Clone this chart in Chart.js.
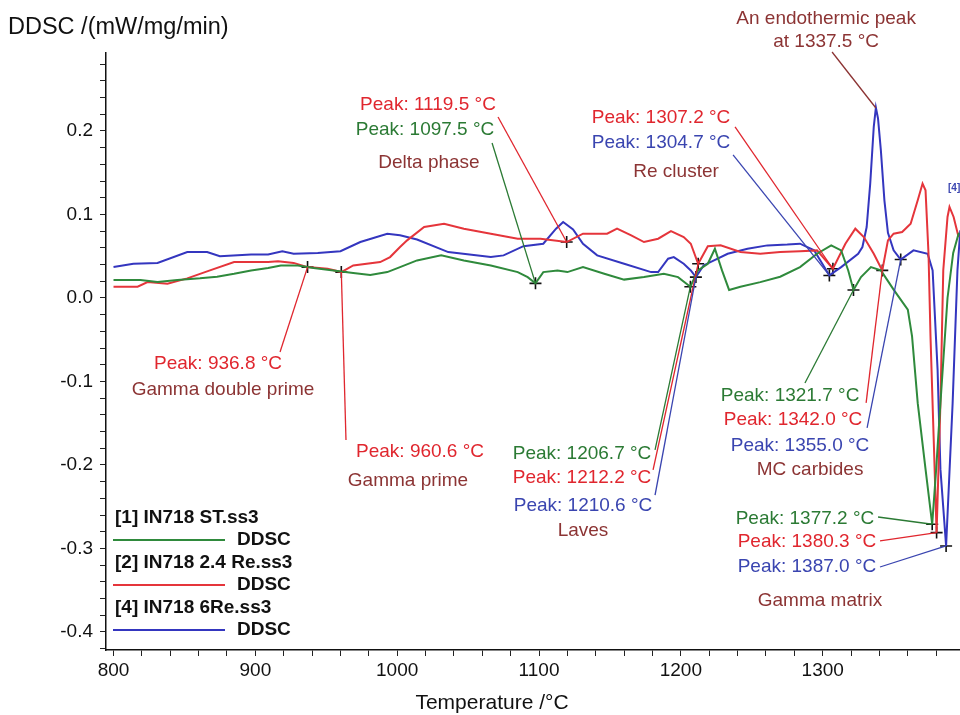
<!DOCTYPE html>
<html>
<head>
<meta charset="utf-8">
<script src="https://cdn.jsdelivr.net/npm/chart.js@4.4.1/dist/chart.umd.min.js"></script>
<style>
  html, body { margin: 0; padding: 0; background: #fff; }
  canvas { display: block; }
</style>
</head>
<body>
<canvas id="ddsc" width="960" height="715"></canvas>
<script>
// ---- data (temperature in °C, DDSC in mW/mg/min) ----
const seriesNames = ['[1] IN718 ST.ss3', '[2] IN718 2.4 Re.ss3', '[4] IN718 6Re.ss3'];

const greenT = [800, 819, 831, 845, 861, 873, 885, 897, 909, 918, 930, 941, 955, 969, 981, 993, 1002, 1014, 1031, 1047,
  1066, 1085, 1092, 1097.5, 1103, 1113, 1120, 1131, 1146, 1160, 1174, 1188, 1198, 1206.7, 1212, 1219, 1224, 1229, 1234, 1242,
  1256, 1270, 1284, 1296, 1306, 1313, 1318, 1321.7, 1327, 1334, 1341, 1350, 1360, 1363, 1367, 1372.5, 1377.2, 1380, 1383, 1388,
  1392, 1396];
const greenV = [0.0215, 0.0215, 0.019, 0.0215, 0.0235, 0.0255, 0.029, 0.033, 0.036, 0.039, 0.039, 0.036, 0.033, 0.030, 0.0275, 0.031, 0.037, 0.045, 0.051, 0.045,
  0.039, 0.031, 0.025, 0.0175, 0.031, 0.033, 0.031, 0.037, 0.029, 0.022, 0.025, 0.029, 0.025, 0.0135, 0.033, 0.041, 0.059, 0.033, 0.0096, 0.0135,
  0.019, 0.0255, 0.037, 0.053, 0.063, 0.057, 0.033, 0.0096, 0.025, 0.037, 0.033, 0.010, -0.014, -0.046, -0.126, -0.205, -0.271, -0.205, -0.126, 0.0,
  0.054, 0.078];

const redT = [800, 817, 824, 838, 852, 868, 885, 909, 916, 927, 936.8, 951, 960.6, 969, 988, 995, 1002, 1007, 1019, 1033,
  1047, 1066, 1085, 1101, 1119.5, 1131, 1148, 1155, 1165, 1174, 1184, 1193, 1202, 1207, 1212.2, 1219, 1228, 1242, 1256, 1270,
  1284, 1296, 1307.2, 1316, 1323, 1329, 1336, 1342, 1346, 1350, 1356, 1362, 1367, 1370.4, 1372.5, 1374.6, 1376, 1378.2, 1380.3, 1383,
  1385, 1388, 1389.4, 1392.3, 1395.8];
const redV = [0.0135, 0.0135, 0.019, 0.017, 0.0235, 0.033, 0.043, 0.043, 0.044, 0.042, 0.037, 0.035, 0.031, 0.039, 0.043, 0.049, 0.061, 0.069, 0.085, 0.089,
  0.083, 0.077, 0.071, 0.071, 0.067, 0.077, 0.077, 0.083, 0.075, 0.067, 0.071, 0.080, 0.073, 0.065, 0.041, 0.062, 0.063, 0.055, 0.053, 0.055,
  0.056, 0.057, 0.035, 0.065, 0.083, 0.073, 0.053, 0.033, 0.069, 0.077, 0.079, 0.089, 0.117, 0.137, 0.129, 0.053, -0.046, -0.166, -0.281, -0.126,
  0.033, 0.097, 0.109, 0.097, 0.073];

const blueT = [800, 814, 831, 852, 866, 875, 897, 909, 919, 927, 944, 960, 974, 993, 1002, 1014, 1036, 1066, 1075, 1089,
  1103, 1112, 1117, 1124, 1131, 1141, 1160, 1179, 1184, 1191, 1195, 1202, 1207, 1210.6, 1216, 1233, 1247, 1261, 1275, 1284,
  1294, 1304.7, 1313, 1325, 1328, 1331, 1333.5, 1336, 1337.5, 1339, 1341, 1343.5, 1346, 1350, 1355, 1364, 1374, 1377.5, 1381, 1383,
  1387, 1391.6, 1395, 1397];
const blueV = [0.037, 0.041, 0.042, 0.055, 0.055, 0.050, 0.052, 0.052, 0.056, 0.053, 0.054, 0.056, 0.067, 0.077, 0.075, 0.070, 0.055, 0.049, 0.051, 0.062,
  0.065, 0.083, 0.091, 0.082, 0.065, 0.051, 0.041, 0.031, 0.031, 0.047, 0.049, 0.041, 0.033, 0.025, 0.039, 0.053, 0.059, 0.063, 0.064, 0.065,
  0.057, 0.027, 0.037, 0.053, 0.061, 0.085, 0.137, 0.205, 0.228, 0.215, 0.177, 0.117, 0.078, 0.057, 0.046, 0.057, 0.053, 0.033, -0.086, -0.205,
  -0.297, -0.126, 0.033, 0.081];

// picked peaks (temperatures), one list per curve
const greenPeaks = [1097.5, 1206.7, 1321.7, 1377.2];
const redPeaks = [936.8, 960.6, 1119.5, 1212.2, 1307.2, 1342.0, 1380.3];
const bluePeaks = [1210.6, 1304.7, 1355.0, 1387.0];

// axis range and ticks
const X_MIN = 794.7, X_MAX = 1396.8;
const Y_MIN = -0.4216, Y_MAX = 0.2934;
const xTicks = [];
for (let t = 800; t <= 1380; t += 20) xTicks.push(t);
const yTicks = [];
for (let k = -42; k <= 28; k += 2) yTicks.push(k / 100);

const COL = { green: '#2f8a3c', red: '#e5353b', blue: '#3436bf', brown: '#8c3434',
  gText: '#2b7a34', rText: '#e0262e', bText: '#3a45b0' };

const toPts = (T, V) => T.map((t, i) => ({ x: t, y: V[i] }));
const peakPts = (T, V, peaks) => peaks.map(p => ({ x: p, y: V[T.indexOf(p)] }));

// annotation texts; positions are given in data units (temperature, DDSC)
const notes = [
  { text: 'Peak: 1119.5 °C', color: COL.rText, at: [1021.7, 0.2311], from: [1071.1, 0.2168], to: [1119.5, 0.067] },
  { text: 'Peak: 1097.5 °C', color: COL.gText, at: [1019.6, 0.2012], from: [1066.9, 0.1856], to: [1097.5, 0.0175] },
  { text: 'Delta phase', color: COL.brown, at: [1022.4, 0.1617] },
  { text: 'Peak: 1307.2 °C', color: COL.rText, at: [1186.0, 0.2156], from: [1238.2, 0.2048], to: [1307.2, 0.035] },
  { text: 'Peak: 1304.7 °C', color: COL.bText, at: [1186.0, 0.1856], from: [1236.8, 0.1713], to: [1304.7, 0.027] },
  { text: 'Re cluster', color: COL.brown, at: [1196.6, 0.1509] },
  { text: 'An endothermic peak', color: COL.brown, at: [1302.4, 0.3341] },
  { text: 'at 1337.5 °C', color: COL.brown, at: [1302.4, 0.3066], from: [1306.6, 0.2946], to: [1337.5, 0.2275] },
  { text: 'Peak: 936.8 °C', color: COL.rText, at: [873.7, -0.0790], from: [917.4, -0.0647], to: [936.8, 0.037] },
  { text: 'Gamma double prime', color: COL.brown, at: [877.2, -0.1102] },
  { text: 'Peak: 960.6 °C', color: COL.rText, at: [1016.1, -0.1844], from: [963.9, -0.1701], to: [960.6, 0.031] },
  { text: 'Gamma prime', color: COL.brown, at: [1007.6, -0.2192] },
  { text: 'Peak: 1206.7 °C', color: COL.gText, at: [1130.3, -0.1868], from: [1181.8, -0.182], to: [1206.7, 0.0135] },
  { text: 'Peak: 1212.2 °C', color: COL.rText, at: [1130.3, -0.2156], from: [1180.4, -0.206], to: [1212.2, 0.041] },
  { text: 'Peak: 1210.6 °C', color: COL.bText, at: [1131.0, -0.2491], from: [1181.8, -0.236], to: [1210.6, 0.025] },
  { text: 'Laves', color: COL.brown, at: [1131.0, -0.279] },
  { text: 'Peak: 1321.7 °C', color: COL.gText, at: [1277.0, -0.1174], from: [1287.5, -0.1018], to: [1321.7, 0.0096] },
  { text: 'Peak: 1342.0 °C', color: COL.rText, at: [1279.1, -0.1461], from: [1330.6, -0.1257], to: [1342.0, 0.033] },
  { text: 'Peak: 1355.0 °C', color: COL.bText, at: [1284.0, -0.1772], from: [1331.3, -0.1557], to: [1355.0, 0.046] },
  { text: 'MC carbides', color: COL.brown, at: [1291.1, -0.206] },
  { text: 'Peak: 1377.2 °C', color: COL.gText, at: [1287.5, -0.2647], from: [1339.0, -0.2623], to: [1377.2, -0.271] },
  { text: 'Peak: 1380.3 °C', color: COL.rText, at: [1288.9, -0.2922], from: [1340.4, -0.291], to: [1380.3, -0.281] },
  { text: 'Peak: 1387.0 °C', color: COL.bText, at: [1288.9, -0.3222], from: [1340.4, -0.3222], to: [1387.0, -0.297] },
  { text: 'Gamma matrix', color: COL.brown, at: [1298.1, -0.3629] },
];

const FONT = '"Liberation Sans", Arial, sans-serif';
const NARROW = '"Liberation Sans Narrow", "Arial Narrow", "Liberation Sans", sans-serif';

// draws axis titles, leader lines, annotation texts and the legend block
const decorations = {
  id: 'decorations',
  afterDraw(chart) {
    const { ctx, scales: { x, y } } = chart;
    const px = p => [x.getPixelForValue(p[0]), y.getPixelForValue(p[1])];
    ctx.save();

    ctx.fillStyle = '#111';
    ctx.textBaseline = 'middle';
    ctx.textAlign = 'left';
    ctx.font = '23.5px ' + FONT;
    ctx.fillText('DDSC /(mW/mg/min)', 8, 28);
    ctx.textAlign = 'center';
    ctx.font = '21px ' + NARROW;
    ctx.fillText('Temperature /°C', 492, 703);

    notes.forEach(n => {
      if (n.from) {
        const a = px(n.from), b = px(n.to);
        ctx.strokeStyle = n.color;
        ctx.lineWidth = 1.3;
        ctx.beginPath();
        ctx.moveTo(a[0], a[1]);
        ctx.lineTo(b[0], b[1]);
        ctx.stroke();
      }
      const c = px(n.at);
      ctx.fillStyle = n.color;
      ctx.font = '19px ' + FONT;
      ctx.fillText(n.text, c[0], c[1]);
    });

    // small curve tag at the right edge
    ctx.fillStyle = COL.bText;
    ctx.font = 'bold 10px ' + FONT;
    ctx.textAlign = 'left';
    ctx.fillText('[4]', 948, 188);

    // legend
    const rows = [518, 563, 608];
    chart.data.datasets.slice(0, 3).forEach((ds, i) => {
      const top = rows[i];
      ctx.fillStyle = '#111';
      ctx.font = 'bold 19px ' + FONT;
      ctx.textAlign = 'left';
      ctx.fillText(ds.label, 115, top);
      ctx.strokeStyle = ds.borderColor;
      ctx.lineWidth = 2;
      ctx.beginPath();
      ctx.moveTo(113, top + 22);
      ctx.lineTo(225, top + 22);
      ctx.stroke();
      ctx.fillText('DDSC', 237, top + 22);
    });
    ctx.restore();
  }
};

const axisFont = { family: NARROW, size: 19 };

new Chart(document.getElementById('ddsc'), {
  type: 'line',
  data: {
    datasets: [
      { label: seriesNames[0], data: toPts(greenT, greenV), borderColor: COL.green, borderWidth: 2, pointRadius: 0, tension: 0 },
      { label: seriesNames[1], data: toPts(redT, redV), borderColor: COL.red, borderWidth: 2, pointRadius: 0, tension: 0 },
      { label: seriesNames[2], data: toPts(blueT, blueV), borderColor: COL.blue, borderWidth: 2, pointRadius: 0, tension: 0 },
      {
        label: 'peaks',
        data: [...peakPts(greenT, greenV, greenPeaks), ...peakPts(redT, redV, redPeaks), ...peakPts(blueT, blueV, bluePeaks)],
        showLine: false, pointStyle: 'cross', pointRadius: 6, borderColor: '#111', borderWidth: 1.6,
      },
    ],
  },
  options: {
    responsive: false,
    animation: false,
    devicePixelRatio: 1,
    layout: { autoPadding: false, padding: { top: 53, left: 0, right: 0, bottom: 0 } },
    plugins: { legend: { display: false }, tooltip: { enabled: false } },
    scales: {
      x: {
        type: 'linear', min: X_MIN, max: X_MAX,
        afterBuildTicks: s => { s.ticks = xTicks.map(v => ({ value: v })); },
        afterFit: s => { s.height = 65; s.paddingLeft = 0; s.paddingRight = 0; },
        ticks: { autoSkip: false, maxRotation: 0, padding: 3, color: '#111', font: axisFont,
          callback: v => (v % 100 === 0 ? String(v) : '') },
        grid: { drawOnChartArea: false, tickLength: 6, color: '#222' },
        border: { color: '#111', width: 1.5 },
      },
      y: {
        type: 'linear', min: Y_MIN, max: Y_MAX,
        afterBuildTicks: s => { s.ticks = yTicks.map(v => ({ value: v })); },
        afterFit: s => { s.width = 106; },
        ticks: { autoSkip: false, padding: 7, color: '#111', font: axisFont,
          callback: v => { const k = Math.round(v * 100); return k % 10 === 0 ? (k / 100).toFixed(1) : ''; } },
        grid: { drawOnChartArea: false, tickLength: 6, color: '#222' },
        border: { color: '#111', width: 1.5 },
      },
    },
  },
  plugins: [decorations],
});
</script>
</body>
</html>
